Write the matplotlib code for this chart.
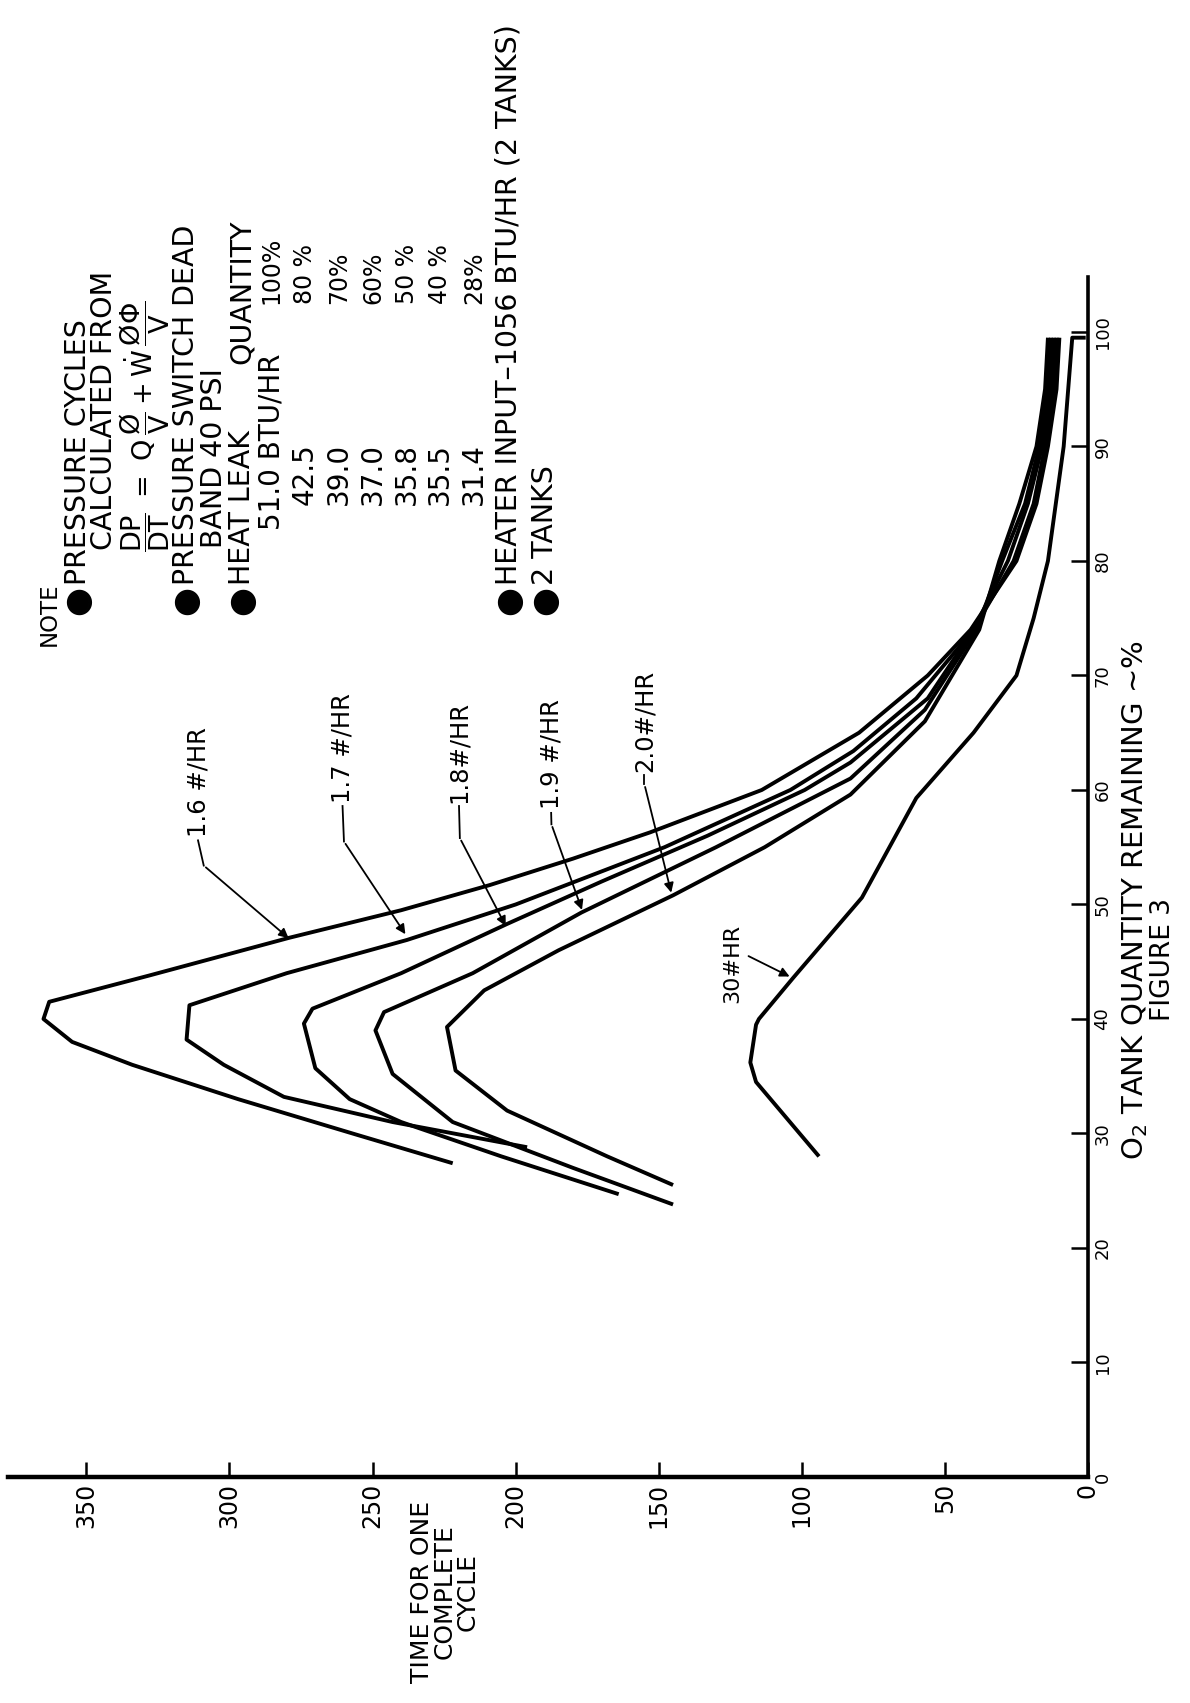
import matplotlib
matplotlib.use('Agg')
import matplotlib.pyplot as plt

W, H = 1190, 1703

# ---- data: O2 tank quantity (%) vs time for one complete cycle ----
q_16 = [27.4, 30, 33, 36, 38, 40, 41.5, 43.8, 47.1, 49.5, 51.7, 54, 56.3, 60, 65, 70, 74, 80, 85, 90, 95, 99.5]
t_16 = [222, 257, 297, 334, 355, 365, 363, 328, 279, 240, 209, 180, 153, 114, 80, 56, 41, 25, 18, 14, 11, 10]

q_17 = [28.8, 31, 33.2, 36, 38.2, 41.2, 44, 46.9, 50, 55, 60, 63.4, 68, 74, 80, 85, 90, 95, 99.5]
t_17 = [196, 243, 281, 302, 315, 314, 280, 238, 200, 148, 104, 82, 60, 40, 26, 19, 15, 12, 11]

q_18 = [24.7, 28, 31, 33, 35.7, 39.6, 40.9, 44, 48.3, 52, 56, 60, 62.4, 68, 74, 80, 85, 90, 95, 99.5]
t_18 = [164, 205, 240, 258, 270, 274, 271, 240, 203, 170, 133, 99, 83, 56, 40, 28, 21, 16, 13, 12]

q_19 = [23.8, 27, 31, 35.2, 39, 40.6, 44, 49.3, 55, 61, 67, 74, 80, 85, 90, 95, 99.5]
t_19 = [145, 180, 222, 243, 249, 246, 215, 177, 130, 83, 57, 39, 30, 22, 17, 14, 13]

q_20 = [25.5, 28, 32, 35.5, 39.3, 42.5, 46, 50.8, 55, 59.6, 66, 74, 80, 85, 90, 95, 99.5]
t_20 = [145, 168, 203, 221, 224, 211, 185, 145, 113, 83, 57, 38, 31, 24, 18, 15, 14]

q_30 = [28.0, 34.5, 36.2, 39.5, 40.0, 43.6, 50.6, 59.3, 65, 70, 75, 80, 90, 99.5, 99.5]
t_30 = [94, 116, 118, 116, 115, 103, 79, 60, 40, 25, 19, 14, 8.5, 5.5, 0.8]

time_ticks = [0, 50, 100, 150, 200, 250, 300, 350]
qty_ticks = [0, 10, 20, 30, 40, 50, 60, 70, 80, 90, 100]

# curve labels: text, label anchor (t, q), leader bend (t, q), arrow tip (t, q)
labels = [
    ("1.6 #/HR", (311, 55.9), (309, 53.4), (278.6, 46.9)),
    ("1.7 #/HR", (260.5, 58.9), (260, 55.5), (238, 47.2)),
    ("1.8#/HR", (219.8, 58.9), (219.5, 55.8), (203, 47.9)),
    ("1.9 #/HR", (187.6, 58.3), (187.5, 57.0), (176.5, 49.3)),
    ("2.0#/HR", (155, 61.6), (155, 60.5), (145.4, 50.8)),
]

# note block: text, x centre px, start y px (text runs upward), bullet, size
note_lines = [
    ("NOTE", 49, 646, False, 16.5),
    ("PRESSURE CYCLES", 78, 585, True, 20.5),
    ("CALCULATED FROM", 104, 550, False, 20.5),
    ("PRESSURE SWITCH DEAD", 186, 585, True, 20.5),
    ("BAND 40 PSI", 214, 548, False, 20.5),
    ("HEAT LEAK", 242, 585, True, 20.5),
    ("QUANTITY", 242, 364, False, 20.5),
    ("HEATER INPUT\u20131056 BTU/HR (2 TANKS)", 509, 585, True, 20.5),
    ("2 TANKS", 545, 585, True, 20.5),
]
leak_btu = ["51.0 BTU/HR", "42.5", "39.0", "37.0", "35.8", "35.5", "31.4"]
leak_qty = ["100%", "80 %", "70%", "60%", "50 %", "40 %", "28%"]

fig = plt.figure(figsize=(W / 100, H / 100), dpi=100)


def fx(x):
    return x / W


def fy(y):
    return 1 - y / H


ax = fig.add_axes([fx(8), fy(1477), (1088 - 8) / W, (1477 - 277) / H])
ax.set_xlim(377.4, 0)
ax.set_ylim(0, 104.8)

for s in ['top', 'left']:
    ax.spines[s].set_visible(False)
ax.spines['bottom'].set_linewidth(3.2)
ax.spines['right'].set_linewidth(2.6)

ax.set_xticks(time_ticks)
ax.set_xticklabels([str(v) for v in time_ticks], rotation=90, fontsize=17)
ax.tick_params(axis='x', direction='in', length=11, width=1.8, pad=4)

ax.yaxis.tick_right()
ax.set_yticks(qty_ticks)
ax.set_yticklabels([str(v) for v in qty_ticks], rotation=90, va='center', fontsize=13)
ax.tick_params(axis='y', direction='in', length=12, width=1.8, pad=4)

for q, t in [(q_16, t_16), (q_17, t_17), (q_18, t_18), (q_19, t_19), (q_20, t_20)]:
    ax.plot(t, q, color='black', lw=2.8, solid_joinstyle='round', solid_capstyle='butt')
ax.plot(t_30, q_30, color='black', lw=2.8, solid_joinstyle='round', solid_capstyle='butt')

for txt, lab, bend, tip in labels:
    ax.text(lab[0], lab[1], txt, rotation=90, ha='center', va='bottom', fontsize=17.5)
    ax.plot([lab[0], bend[0]], [lab[1] - 0.3, bend[1]], color='black', lw=1.3)
    ax.annotate('', xy=tip, xytext=bend,
                arrowprops=dict(arrowstyle='-|>', color='black', lw=1.3, mutation_scale=14))

ax.text(124.4, 41.4, "30#HR", rotation=90, ha='center', va='bottom', fontsize=16)
ax.annotate('', xy=(103.4, 43.6), xytext=(119.5, 45.6),
            arrowprops=dict(arrowstyle='-|>', color='black', lw=1.3, mutation_scale=14))

# axis titles
fig.text(fx(1135), fy(900), "O$_2$ TANK QUANTITY REMAINING \u223c%", rotation=90,
         ha='center', va='center', fontsize=21)
fig.text(fx(1163), fy(960), "FIGURE 3", rotation=90, ha='center', va='center', fontsize=19)
fig.text(fx(445), fy(1592), "TIME FOR ONE\nCOMPLETE\nCYCLE", rotation=90,
         ha='center', va='center', multialignment='center', fontsize=18, linespacing=0.95)

# note block
for txt, x, y0, bullet, size in note_lines:
    fig.text(fx(x), fy(y0), txt, rotation=90, ha='center', va='bottom', fontsize=size)
    if bullet:
        fig.text(fx(x), fy(600), "\u25cf", rotation=90, ha='center', va='center', fontsize=24)

row_x = [271, 305, 339, 373, 407, 440, 474]
for i, (x, btu, pct) in enumerate(zip(row_x, leak_btu, leak_qty)):
    fig.text(fx(x), fy(530 if i == 0 else 505), btu, rotation=90, ha='center', va='bottom', fontsize=20)
    fig.text(fx(x), fy(304), pct, rotation=90, ha='center', va='bottom', fontsize=17)

fig.text(fx(145), fy(552),
         r"$\mathrm{\dfrac{DP}{DT}\ =\ Q\,\dfrac{\O}{V} + \dot{W}\,\dfrac{\O\Phi}{V}}$",
         rotation=90, ha='center', va='bottom', fontsize=19.5)

fig.savefig("out.png", dpi=100)
